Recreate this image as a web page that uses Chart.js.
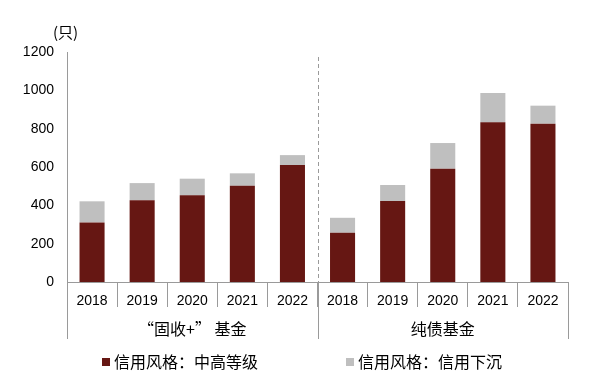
<!DOCTYPE html>
<html>
<head>
<meta charset="utf-8">
<script src="https://cdn.jsdelivr.net/npm/chart.js@4.4.1/dist/chart.umd.min.js"></script>
<style>
  html, body { margin: 0; padding: 0; background: #fff; }
  #wrap { width: 594px; height: 382px; position: relative; }
</style>
</head>
<body>
<div id="wrap"><canvas id="fundChart"></canvas></div>
<script>
// values (只)
const years = ['2018', '2019', '2020', '2021', '2022', '2018', '2019', '2020', '2021', '2022']
const groups = ['“固收+” 基金', '纯债基金']
const groupSize = 5
const midHigh = [311, 426, 452, 502, 610, 257, 422, 591, 833, 826]
const sinking = [110, 90, 87, 65, 52, 78, 84, 134, 153, 94]
const seriesNames = ['信用风格：中高等级', '信用风格：信用下沉']
const seriesColors = ['#661713', '#bfbfbf']
const yMax = 1200
const yStep = 200
const unitLabel = '(只)'

const numFont = '"Liberation Sans", Arial, sans-serif'
const cjkFont = '"Noto Sans CJK SC", "Noto Sans", sans-serif'
const axisColor = '#9a9a9a'

// group row, divider, unit label and legend
const decorations = {
  id: 'decorations',
  afterDraw(chart) {
    const ctx = chart.ctx
    const x = chart.scales.x
    const area = chart.chartArea
    const half = (x.getPixelForValue(1) - x.getPixelForValue(0)) / 2

    ctx.save()

    // dashed separator between groups
    const sepX = Math.round((x.getPixelForValue(groupSize - 1) + x.getPixelForValue(groupSize)) / 2) + 0.5
    ctx.strokeStyle = axisColor
    ctx.lineWidth = 1
    ctx.setLineDash([4, 3])
    ctx.beginPath()
    ctx.moveTo(sepX, area.top + 5)
    ctx.lineTo(sepX, area.bottom)
    ctx.stroke()
    ctx.setLineDash([])

    // group row dividers
    const bottomY = area.bottom + 57
    for (let g = 0; g <= groups.length; g++) {
      let idx = Math.min(g * groupSize, years.length - 1)
      let px = g * groupSize < years.length ? x.getPixelForValue(idx) - half : x.getPixelForValue(idx) + half
      px = Math.round(px) + 0.5
      ctx.beginPath()
      ctx.moveTo(px, area.bottom)
      ctx.lineTo(px, bottomY)
      ctx.stroke()
    }

    // group labels
    ctx.fillStyle = '#000'
    ctx.font = '16px ' + cjkFont
    ctx.textAlign = 'center'
    ctx.textBaseline = 'middle'
    groups.forEach((name, g) => {
      const a = x.getPixelForValue(g * groupSize)
      const b = x.getPixelForValue(g * groupSize + groupSize - 1)
      ctx.fillText(name, (a + b) / 2, area.bottom + 47)
    })

    // unit label
    ctx.textAlign = 'left'
    ctx.font = '15px ' + cjkFont
    ctx.fillText(unitLabel, 53, 32)

    // legend
    const legendX = [102, 346]
    const legendY = 362
    ctx.font = '16px ' + cjkFont
    seriesNames.forEach((name, i) => {
      ctx.fillStyle = seriesColors[i]
      ctx.fillRect(legendX[i], legendY - 4, 8, 8)
      ctx.fillStyle = '#000'
      ctx.fillText(name, legendX[i] + 12, legendY)
    })

    ctx.restore()
  }
}

const fundData = {
  labels: years,
  datasets: [{
    label: seriesNames[0],
    data: midHigh,
    backgroundColor: seriesColors[0],
    borderWidth: 0,
    barPercentage: 0.5,
    categoryPercentage: 1
  }, {
    label: seriesNames[1],
    data: sinking,
    backgroundColor: seriesColors[1],
    borderWidth: 0,
    barPercentage: 0.5,
    categoryPercentage: 1
  }]
}

const fundConfig = {
  type: 'bar',
  data: fundData,
  options: {
    responsive: true,
    maintainAspectRatio: false,
    animation: false,
    layout: {
      padding: { top: 52, right: 26, bottom: 0, left: 0 }
    },
    plugins: {
      legend: { display: false },
      tooltip: { enabled: false }
    },
    scales: {
      x: {
        stacked: true,
        afterFit(scale) { scale.height = 100 },
        grid: {
          offset: true,
          drawOnChartArea: false,
          drawTicks: true,
          tickLength: 25,
          color: axisColor
        },
        border: { color: axisColor, width: 1 },
        ticks: {
          padding: -14,
          color: '#000',
          maxRotation: 0,
          autoSkip: false,
          font: { family: numFont, size: 14 }
        }
      },
      y: {
        stacked: true,
        min: 0,
        max: yMax,
        afterFit(scale) { scale.width = 67 },
        grid: { display: false, drawTicks: false },
        border: { color: axisColor, width: 1 },
        ticks: {
          stepSize: yStep,
          padding: 13,
          color: '#000',
          font: { family: numFont, size: 14 },
          callback: (v) => String(v)
        }
      }
    }
  },
  plugins: [decorations]
}

const fundChart = new Chart(document.getElementById('fundChart'), fundConfig)
</script>
</body>
</html>
